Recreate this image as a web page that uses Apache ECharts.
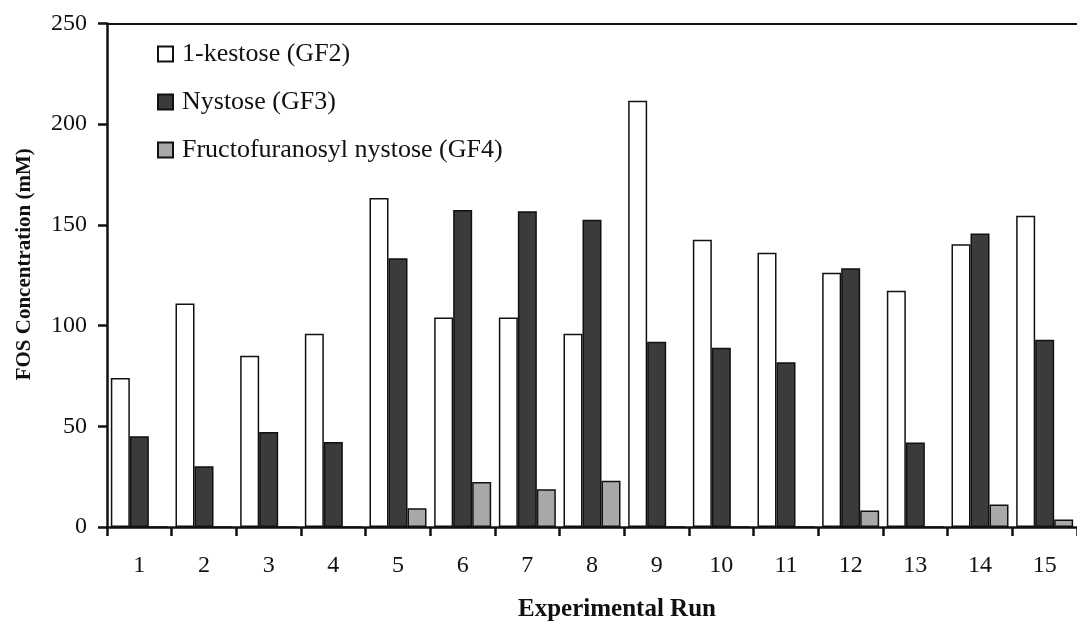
<!DOCTYPE html>
<html>
<head>
<meta charset="utf-8">
<script src="https://cdn.jsdelivr.net/npm/echarts@6/dist/echarts.min.js"></script>
<style>
html,body{margin:0;padding:0;background:#fff;}
#c{width:1077px;height:627px;}
</style>
</head>
<body>
<div id="c"></div>
<script>
const categories = ['1','2','3','4','5','6','7','8','9','10','11','12','13','14','15'];
const gf2 = [74, 111, 85, 96, 163.4, 104, 104, 96, 211.7, 142.6, 136.2, 126.2, 117.3, 140.4, 154.5];
const gf3 = [45, 30.2, 47.2, 42.2, 133.5, 157.4, 156.8, 152.5, 92, 89, 81.8, 128.5, 42, 145.7, 93];
const gf4 = [0, 0, 0, 0, 9.3, 22.3, 18.8, 23, 0, 0, 0, 8.2, 0, 11.2, 3.7];
const seriesNames = ['1-kestose (GF2)', 'Nystose (GF3)', 'Fructofuranosyl nystose (GF4)'];
const yAxisTitle = 'FOS Concentration (mM)';
const xAxisTitle = 'Experimental Run';

const FONT = '"Liberation Serif", "Times New Roman", serif';
const chart = echarts.init(document.getElementById('c'), null, {renderer: 'canvas'});

function barSeries(name, data, color) {
  return {
    name: name, type: 'bar', data: data,
    barWidth: 19, barGap: '0%',
    itemStyle: {color: color, borderColor: '#111', borderWidth: 1.5},
    emphasis: {disabled: true},
    animation: false
  };
}

chart.setOption({
  backgroundColor: '#ffffff',
  animation: false,
  grid: {left: 107, top: 23.5, width: 982.5, height: 505, containLabel: false},
  legend: {
    orient: 'vertical', left: 152, top: 36,
    icon: 'rect',
    itemWidth: 15, itemHeight: 15, itemGap: 22,
    textStyle: {fontFamily: FONT, fontSize: 26, color: '#111', padding: [0, 0, 0, 4]},
    selectedMode: false,
    data: seriesNames
  },
  xAxis: [{
    type: 'category', data: categories, position: 'bottom',
    axisLine: {show: true, lineStyle: {color: '#111', width: 2.5}},
    axisTick: {show: true, inside: false, length: 9, lineStyle: {color: '#111', width: 2.5}},
    axisLabel: {fontFamily: FONT, fontSize: 24, color: '#111', margin: 27},
    name: xAxisTitle, nameLocation: 'middle', nameGap: 70,
    nameTextStyle: {fontFamily: FONT, fontSize: 25, fontWeight: 'bold', color: '#111', padding: [0, 0, 0, 50]},
    splitLine: {show: false}
  }, {
    type: 'category', data: categories, position: 'top',
    axisLine: {show: true, lineStyle: {color: '#111', width: 2}},
    axisTick: {show: false}, axisLabel: {show: false}, splitLine: {show: false}
  }],
  yAxis: {
    type: 'value', min: 0, max: 250, interval: 50,
    axisLine: {show: true, lineStyle: {color: '#111', width: 2.5}},
    axisTick: {show: true, length: 9, lineStyle: {color: '#111', width: 2.5}},
    axisLabel: {fontFamily: FONT, fontSize: 24, color: '#111', margin: 20},
    splitLine: {show: false},
    name: yAxisTitle, nameLocation: 'middle', nameGap: 72, nameRotate: 90,
    nameTextStyle: {fontFamily: FONT, fontSize: 21, fontWeight: 'bold', color: '#111', padding: [0, 0, 0, 22]}
  },
  series: [
    barSeries(seriesNames[0], gf2, '#ffffff'),
    barSeries(seriesNames[1], gf3, '#3b3b3b'),
    barSeries(seriesNames[2], gf4, '#a8a8a8')
  ]
});
</script>
</body>
</html>
